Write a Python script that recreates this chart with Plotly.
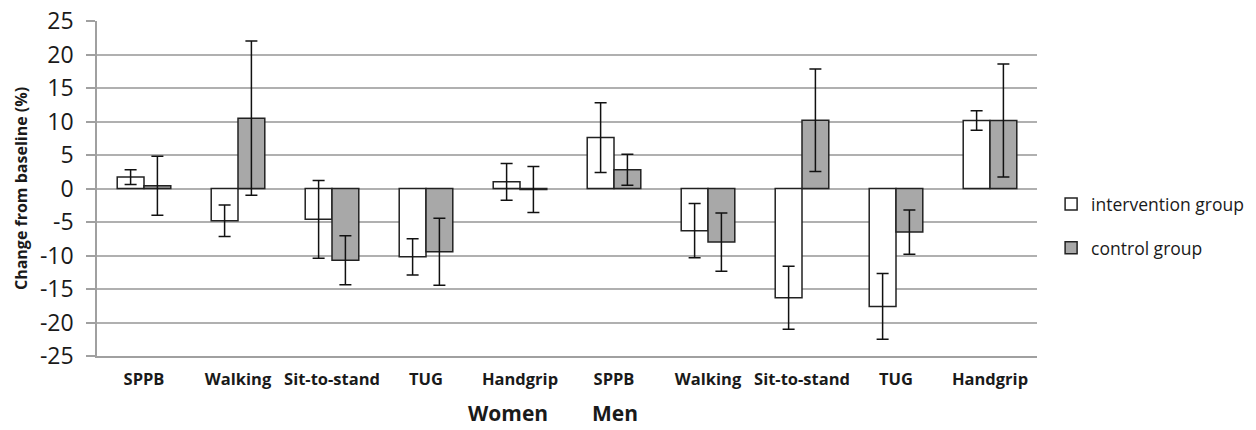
import plotly.graph_objects as go

categories = ["SPPB", "Walking", "Sit-to-stand", "TUG", "Handgrip",
              "SPPB", "Walking", "Sit-to-stand", "TUG", "Handgrip"]
intervention = [1.7, -4.8, -4.6, -10.2, 1.0, 7.6, -6.3, -16.3, -17.6, 10.15]
intervention_err = [1.1, 2.35, 5.8, 2.7, 2.75, 5.2, 4.05, 4.7, 4.9, 1.45]
control = [0.4, 10.5, -10.7, -9.45, -0.15, 2.8, -8.0, 10.2, -6.5, 10.15]
control_err = [4.4, 11.5, 3.65, 5.0, 3.45, 2.3, 4.35, 7.65, 3.3, 8.45]
yticks = [-25, -20, -15, -10, -5, 0, 5, 10, 15, 20, 25]
groups = ["Women", "Men"]

FONT = "Open Sans"
TXT = "#1a1a1a"
xpos = list(range(len(categories)))

fig = go.Figure()
fig.add_trace(go.Bar(
    x=xpos, y=intervention, name="intervention group",
    marker=dict(color="white", line=dict(color="#222222", width=1.5)),
    error_y=dict(type="data", array=intervention_err, visible=True,
                 color="#111111", thickness=1.5, width=6),
    legendgroup="a",
))
fig.add_trace(go.Bar(
    x=xpos, y=control, name="control group",
    marker=dict(color="#a8a8a8", line=dict(color="#222222", width=1.5)),
    error_y=dict(type="data", array=control_err, visible=True,
                 color="#111111", thickness=1.5, width=6),
    legendgroup="b",
))

fig.update_layout(
    width=1256, height=430,
    margin=dict(l=97, r=219, t=21, b=74, autoexpand=False),
    paper_bgcolor="white", plot_bgcolor="white",
    barmode="group", bargap=0.43, bargroupgap=0,
    font=dict(family=FONT, color=TXT),
    showlegend=True,
    legend=dict(x=1.015, y=0.507, xanchor="left", yanchor="top",
                font=dict(size=17.5, family=FONT, color=TXT),
                tracegroupgap=18, traceorder="grouped",
                bgcolor="rgba(0,0,0,0)"),
    xaxis=dict(
        tickmode="array", tickvals=xpos,
        ticktext=["<b>" + c + "</b>" for c in categories],
        range=[-0.5, len(categories) - 0.5],
        showgrid=False, zeroline=False,
        showline=True, linecolor="#a0a0a0", linewidth=1.5,
        ticks="", ticklabelstandoff=7,
        tickfont=dict(size=16.5, family=FONT, color=TXT),
    ),
    yaxis=dict(
        range=[-25, 25], tickmode="array", tickvals=yticks,
        ticktext=[str(v) for v in yticks],
        showgrid=True, gridcolor="#b0b0b0", gridwidth=1.5,
        zeroline=False,
        showline=True, linecolor="#a0a0a0", linewidth=1.5,
        ticks="outside", ticklen=9, tickcolor="#a0a0a0", tickwidth=1.5,
        ticklabelstandoff=8,
        tickfont=dict(size=23, family=FONT, color=TXT),
        title=dict(text="<b>Change from baseline (%)</b>",
                   font=dict(size=16, family=FONT, color=TXT),
                   standoff=8),
    ),
    annotations=[
        dict(text="<b>" + groups[0] + "</b>", x=3.87, y=-0.17, xref="x", yref="paper",
             xanchor="center", yanchor="middle", borderpad=0,
             showarrow=False, font=dict(size=21, family=FONT, color=TXT)),
        dict(text="<b>" + groups[1] + "</b>", x=5.01, y=-0.17, xref="x", yref="paper",
             xanchor="center", yanchor="middle", borderpad=0,
             showarrow=False, font=dict(size=21, family=FONT, color=TXT)),
    ],
)

fig.write_html("out.html", config={"displayModeBar": False},
               post_script="document.body.style.margin='0';document.body.style.overflow='hidden';")
